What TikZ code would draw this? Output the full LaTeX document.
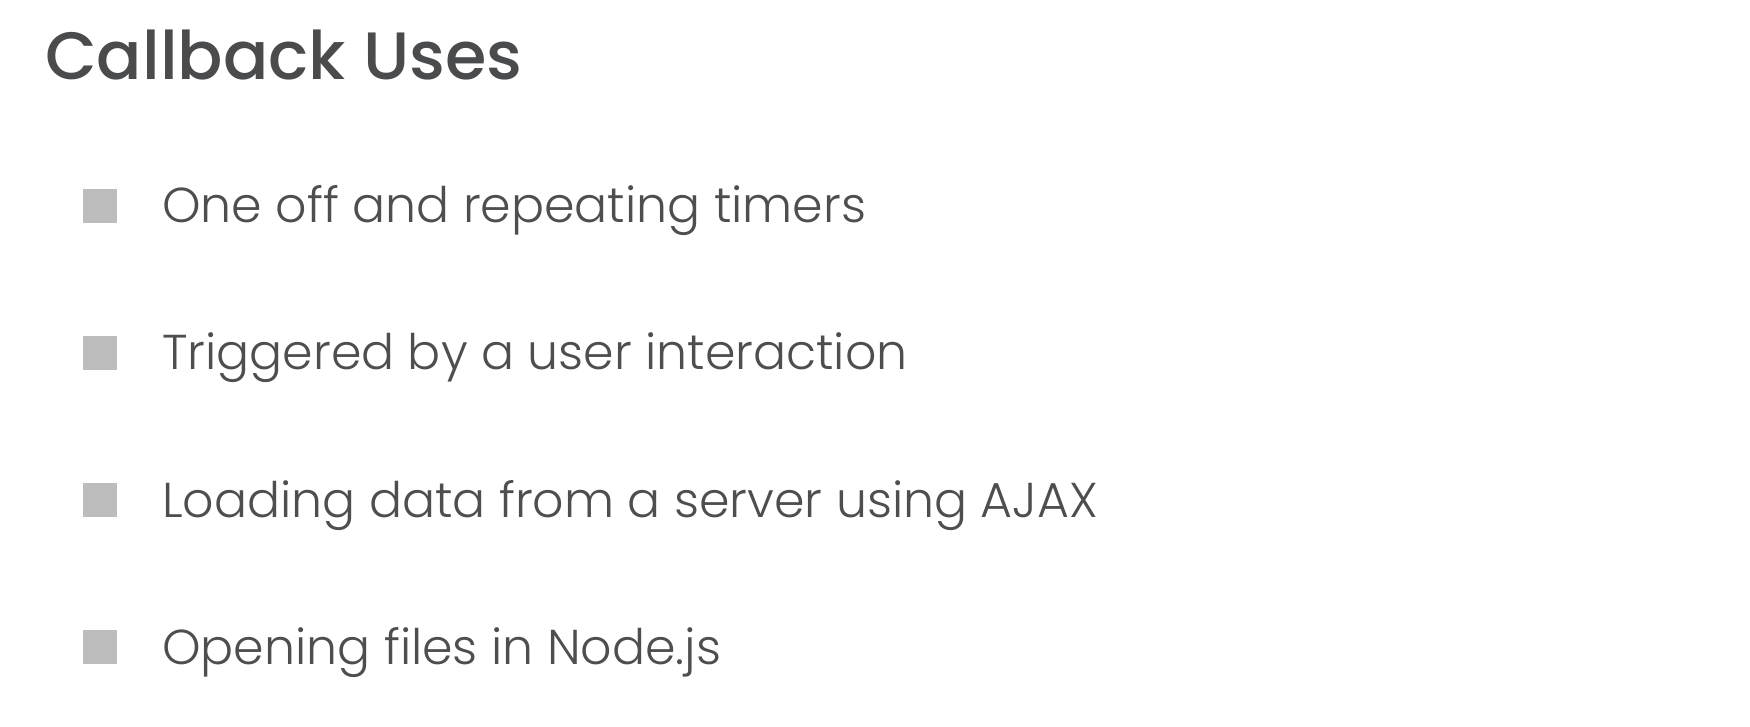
\documentclass[tikz,border=0pt]{standalone}
\usepackage{fontspec}
\setmainfont{Poppins}
\newfontfamily\titlefont{Poppins Medium}
\newfontfamily\itemfont{Poppins Light}
\definecolor{titlegray}{HTML}{4A4B4D}
\definecolor{itemgray}{HTML}{4D4E50}
\definecolor{bulletgray}{HTML}{BDBDBD}
\begin{document}
\begin{tikzpicture}[x=1pt,y=1pt,
  titletext/.style={anchor=base west, inner sep=0pt, text=titlegray, font=\titlefont\fontsize{67}{71}\selectfont},
  itemtext/.style={anchor=base west, inner sep=0pt, text=itemgray, font=\itemfont\fontsize{49}{53}\selectfont},
  bulletbox/.style={fill=bulletgray, draw=none, minimum width=34pt, minimum height=34pt, inner sep=0pt}]
\fill[white] (0,0) rectangle (1750,726);
\useasboundingbox (0,0) rectangle (1750,726);
\node[titletext] (title) at (45,{726-80}) {Callback Uses};
\node[bulletbox] (b1) at (100,{726-206}) {};
\node[itemtext] (t1) at (162,{726-223}) {One off and repeating timers};
\node[bulletbox] (b2) at (100,{726-353}) {};
\node[itemtext] (t2) at (162,{726-370}) {Triggered by a user interaction};
\node[bulletbox] (b3) at (100,{726-500}) {};
\node[itemtext] (t3) at (162,{726-517}) {Loading data from a server using AJAX};
\node[bulletbox] (b4) at (100,{726-647}) {};
\node[itemtext] (t4) at (162,{726-664}) {Opening files in Node.js};
\end{tikzpicture}
\end{document}
